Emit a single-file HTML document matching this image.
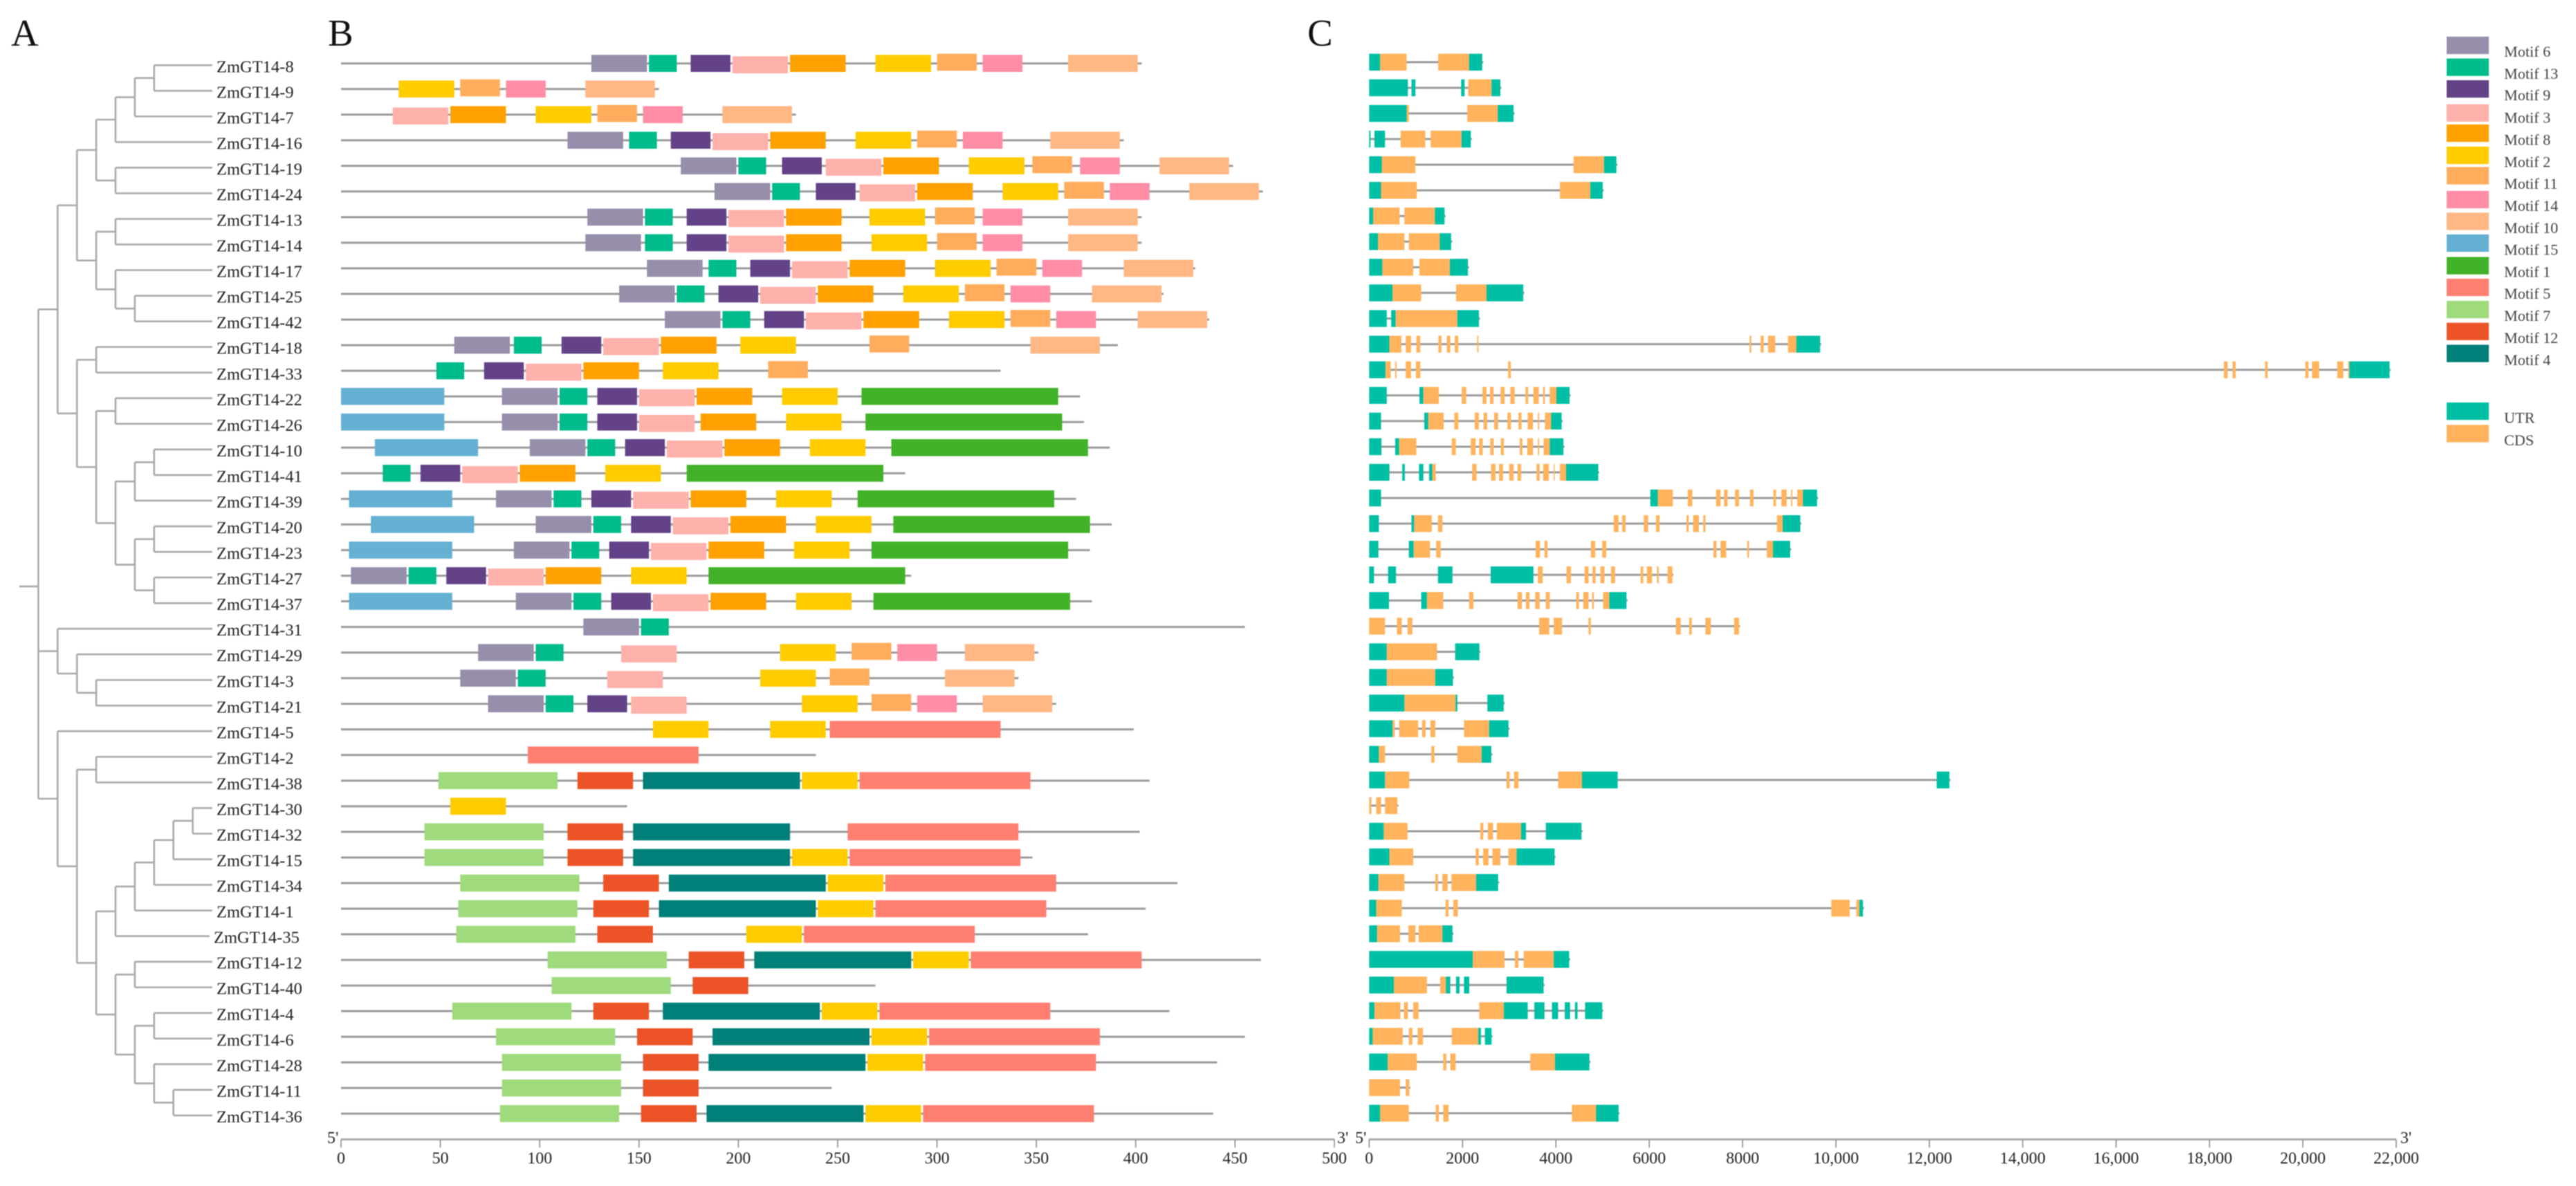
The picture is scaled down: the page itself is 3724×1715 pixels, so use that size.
<!DOCTYPE html>
<html lang="en">
<head>
<meta charset="utf-8">
<title>ZmGT14 phylogeny, motifs and gene structure</title>
<style>
html,body{margin:0;padding:0;background:#fff;width:3724px;height:1715px;overflow:hidden}
svg{display:block;filter:blur(0.8px)}
text{font-family:"Liberation Serif",serif}
</style>
</head>
<body>
<svg id="chart" xmlns="http://www.w3.org/2000/svg" width="3724" height="1715" viewBox="0 0 3724 1715">
  <rect width="3724" height="1715" fill="#fff"/>
  <text x="16" y="66" font-size="55" fill="#111">A</text>
  <text x="474" y="66" font-size="55" fill="#111">B</text>
  <text x="1890" y="66" font-size="55" fill="#111">C</text>
  <text x="473" y="1653" font-size="24" fill="#222">5'</text>
  <text x="1933" y="1653" font-size="24" fill="#222">3'</text>
  <text x="1959" y="1653" font-size="24" fill="#222">5'</text>
  <text x="3470" y="1653" font-size="24" fill="#222">3'</text>
</svg>
<script>
// ---------- data ----------
const genes = ["ZmGT14-8","ZmGT14-9","ZmGT14-7","ZmGT14-16","ZmGT14-19","ZmGT14-24","ZmGT14-13","ZmGT14-14","ZmGT14-17","ZmGT14-25","ZmGT14-42","ZmGT14-18","ZmGT14-33","ZmGT14-22","ZmGT14-26","ZmGT14-10","ZmGT14-41","ZmGT14-39","ZmGT14-20","ZmGT14-23","ZmGT14-27","ZmGT14-37","ZmGT14-31","ZmGT14-29","ZmGT14-3","ZmGT14-21","ZmGT14-5","ZmGT14-2","ZmGT14-38","ZmGT14-30","ZmGT14-32","ZmGT14-15","ZmGT14-34","ZmGT14-1","ZmGT14-35","ZmGT14-12","ZmGT14-40","ZmGT14-4","ZmGT14-6","ZmGT14-28","ZmGT14-11","ZmGT14-36"];

const tree = [
 [
  [
   [ [ [ [["ZmGT14-8","ZmGT14-9"],"ZmGT14-7"], "ZmGT14-16"], ["ZmGT14-19","ZmGT14-24"] ],
     [ ["ZmGT14-13","ZmGT14-14"], ["ZmGT14-17",["ZmGT14-25","ZmGT14-42"]] ] ],
   [ ["ZmGT14-18","ZmGT14-33"],
     [ ["ZmGT14-22","ZmGT14-26"],
       [ [["ZmGT14-10","ZmGT14-41"],"ZmGT14-39"],
         [["ZmGT14-20","ZmGT14-23"],["ZmGT14-27","ZmGT14-37"]] ] ] ]
  ]
 ].flat(),
 ["ZmGT14-31",["ZmGT14-29",["ZmGT14-3","ZmGT14-21"]]],
 ["ZmGT14-5",
  [ ["ZmGT14-2","ZmGT14-38"],
    [ [ [ [ [["ZmGT14-30","ZmGT14-32"],"ZmGT14-15"],"ZmGT14-34"],"ZmGT14-1"],"ZmGT14-35"],
      [ ["ZmGT14-12","ZmGT14-40"],
        [ ["ZmGT14-4","ZmGT14-6"],["ZmGT14-28",["ZmGT14-11","ZmGT14-36"]] ] ] ] ] ]
];

const proteinLengths = [403,160,229,394,449,464,403,403,430,414,437,391,332,372,374,387,284,370,388,377,287,378,455,351,341,360,399,239,407,144,402,348,421,405,376,463,269,417,455,441,247,439];

const motifOrder = [6,13,9,3,8,2,11,14,10,15,1,5,7,12,4];
const motifLengths = {6:28,13:14,9:20,3:28,8:28,2:28,11:20,14:20,10:35,15:52,1:99,5:86,7:60,12:28,4:79};
const motifColors = {6:"#968eab",13:"#00bc8c",9:"#634288",3:"#ffb1ab",8:"#ffa100",2:"#ffcc00",11:"#ffad5c",14:"#ff8da6",10:"#ffb784",15:"#64b1d3",1:"#42b229",5:"#ff7f71",7:"#9fda7c",12:"#ec5427",4:"#008079"};

// one list per gene: [motif id, start residue]
const motifHits = [
 [[6,126],[13,155],[9,176],[3,197],[8,226],[2,269],[11,300],[14,323],[10,366]],
 [[2,29],[11,60],[14,83],[10,123]],
 [[3,26],[8,55],[2,98],[11,129],[14,152],[10,192]],
 [[6,114],[13,145],[9,166],[3,187],[8,216],[2,259],[11,290],[14,313],[10,357]],
 [[6,171],[13,200],[9,222],[3,244],[8,273],[2,316],[11,348],[14,372],[10,412]],
 [[6,188],[13,217],[9,239],[3,261],[8,290],[2,333],[11,364],[14,387],[10,427]],
 [[6,124],[13,153],[9,174],[3,195],[8,224],[2,266],[11,299],[14,323],[10,366]],
 [[6,123],[13,153],[9,174],[3,195],[8,224],[2,267],[11,300],[14,323],[10,366]],
 [[6,154],[13,185],[9,206],[3,227],[8,256],[2,299],[11,330],[14,353],[10,394]],
 [[6,140],[13,169],[9,190],[3,211],[8,240],[2,283],[11,314],[14,337],[10,378]],
 [[6,163],[13,192],[9,213],[3,234],[8,263],[2,306],[11,337],[14,360],[10,401]],
 [[6,57],[13,87],[9,111],[3,132],[8,161],[2,201],[11,266],[10,347]],
 [[13,48],[9,72],[3,93],[8,122],[2,162],[11,215]],
 [[15,0],[6,81],[13,110],[9,129],[3,150],[8,179],[2,222],[1,262]],
 [[15,0],[6,81],[13,110],[9,129],[3,150],[8,181],[2,224],[1,264]],
 [[15,17],[6,95],[13,124],[9,143],[3,164],[8,193],[2,236],[1,277]],
 [[13,21],[9,40],[3,61],[8,90],[2,133],[1,174]],
 [[15,4],[6,78],[13,107],[9,126],[3,147],[8,176],[2,219],[1,260]],
 [[15,15],[6,98],[13,127],[9,146],[3,167],[8,196],[2,239],[1,278]],
 [[15,4],[6,87],[13,116],[9,135],[3,156],[8,185],[2,228],[1,267]],
 [[6,5],[13,34],[9,53],[3,74],[8,103],[2,146],[1,185]],
 [[15,4],[6,88],[13,117],[9,136],[3,157],[8,186],[2,229],[1,268]],
 [[6,122],[13,151]],
 [[6,69],[13,98],[3,141],[2,221],[11,257],[14,280],[10,314]],
 [[6,60],[13,89],[3,134],[2,211],[11,246],[10,304]],
 [[6,74],[13,103],[9,124],[3,146],[2,232],[11,267],[14,290],[10,323]],
 [[2,157],[2,216],[5,246]],
 [[5,94]],
 [[7,49],[12,119],[4,152],[2,232],[5,261]],
 [[2,55]],
 [[7,42],[12,114],[4,147],[5,255]],
 [[7,42],[12,114],[4,147],[2,227],[5,256]],
 [[7,60],[12,132],[4,165],[2,245],[5,274]],
 [[7,59],[12,127],[4,160],[2,240],[5,269]],
 [[7,58],[12,129],[2,204],[5,233]],
 [[7,104],[12,175],[4,208],[2,288],[5,317]],
 [[7,106],[12,177]],
 [[7,56],[12,127],[4,162],[2,242],[5,271]],
 [[7,78],[12,149],[4,187],[2,267],[5,296]],
 [[7,81],[12,152],[4,185],[2,265],[5,294]],
 [[7,81],[12,152]],
 [[7,80],[12,151],[4,184],[2,264],[5,293]]
];

// one list per gene: [start bp, end bp, kind] with kind U = UTR, C = CDS
const U = "UTR", C = "CDS";
const geneSegments = [
 [[0,236,U],[236,803,C],[1478,2140,C],[2140,2423,U]],
 [[0,830,U],[907,992,U],[1970,2045,U],[2121,2622,C],[2622,2811,U]],
 [[0,803,U],[803,850,C],[2102,2754,C],[2754,3094,U]],
 [[0,30,U],[113,340,U],[675,1204,C],[1318,1979,C],[1979,2178,U]],
 [[0,274,U],[274,992,C],[4379,5031,C],[5031,5296,U]],
 [[0,255,U],[255,1020,C],[4086,4738,C],[4738,5003,U]],
 [[0,85,U],[85,652,C],[756,1408,C],[1408,1616,U]],
 [[0,189,U],[189,756,C],[850,1512,C],[1512,1757,U]],
 [[0,283,U],[283,945,C],[1077,1729,C],[1729,2117,U]],
 [[0,501,U],[501,1115,C],[1861,2513,C],[2513,3302,U]],
 [[0,378,U],[472,567,U],[567,1890,C],[1890,2353,U]],
 [[0,435,U],[435,690,C],[784,898,C],[1011,1096,C],[1483,1550,C],[1663,1739,C],[1833,1909,C],[2315,2343,C],[8149,8187,C],[8386,8452,C],[8546,8698,C],[8972,9151,C],[9151,9661,U]],
 [[0,350,U],[350,463,C],[557,586,C],[784,898,C],[1002,1096,C],[2976,3033,C],[18308,18391,C],[18493,18561,C],[19191,19246,C],[20053,20121,C],[20196,20347,C],[20737,20867,C],[20969,20997,C],[20997,21858,U]],
 [[0,378,U],[1077,1162,U],[1162,1493,C],[1984,2079,C],[2428,2513,C],[2589,2665,C],[2816,2901,C],[3024,3118,C],[3349,3406,C],[3519,3633,C],[3727,3765,C],[3869,4011,C],[4011,4294,U]],
 [[0,255,U],[1181,1266,U],[1266,1597,C],[1824,1909,C],[2263,2348,C],[2452,2527,C],[2678,2763,C],[2962,3037,C],[3198,3264,C],[3397,3510,C],[3614,3642,C],[3765,3897,C],[3897,4124,U]],
 [[0,265,U],[557,643,U],[643,1011,C],[1771,1856,C],[2178,2281,C],[2357,2433,C],[2593,2669,C],[2820,2886,C],[3226,3283,C],[3387,3510,C],[3614,3642,C],[3737,3869,C],[3869,4162,U]],
 [[0,435,U],[709,765,U],[1068,1162,U],[1285,1351,U],[1351,1427,C],[2206,2300,C],[2612,2707,C],[2782,2867,C],[3000,3094,C],[3179,3255,C],[3586,3652,C],[3727,3850,C],[3954,3973,C],[4086,4219,C],[4219,4908,U]],
 [[0,255,U],[6023,6184,U],[6184,6505,C],[6826,6921,C],[7431,7526,C],[7601,7677,C],[7838,7923,C],[8159,8234,C],[8660,8716,C],[8830,8943,C],[9037,9066,C],[9170,9293,C],[9293,9595,U]],
 [[0,208,U],[907,964,U],[964,1342,C],[1474,1569,C],[5239,5343,C],[5419,5494,C],[5882,5976,C],[6146,6222,C],[6798,6845,C],[6940,7063,C],[7157,7205,C],[8735,8858,C],[8858,9236,U]],
 [[0,198,U],[850,954,U],[954,1304,C],[1436,1531,C],[3567,3661,C],[3756,3822,C],[4748,4842,C],[4993,5078,C],[7375,7441,C],[7526,7649,C],[8098,8136,C],[8518,8650,C],[8650,9019,U]],
 [[0,104,U],[406,576,U],[1474,1786,U],[2603,3519,U],[3614,3718,C],[4228,4322,C],[4615,4700,C],[4785,4851,C],[4955,5040,C],[5182,5267,C],[5815,5872,C],[5948,6061,C],[6165,6203,C],[6392,6496,C]],
 [[0,425,U],[1115,1238,U],[1238,1587,C],[2140,2234,C],[3179,3274,C],[3359,3434,C],[3557,3652,C],[3784,3869,C],[4436,4493,C],[4587,4700,C],[4776,4814,C],[5012,5145,C],[5145,5513,U]],
 [[0,340,C],[595,699,C],[822,926,C],[3642,3860,C],[3954,4133,C],[4700,4748,C],[6571,6675,C],[6855,6911,C],[7204,7318,C],[7818,7923,C]],
 [[0,378,U],[378,1455,C],[1843,2362,U]],
 [[0,378,U],[378,1417,C],[1417,1795,U]],
 [[0,756,U],[756,1852,C],[1852,1890,U],[2532,2882,U]],
 [[0,501,U],[501,548,C],[643,1049,C],[1134,1209,C],[1313,1417,C],[2032,2570,C],[2570,2986,U]],
 [[0,208,U],[208,340,C],[1332,1398,C],[1890,2410,C],[2410,2617,U]],
 [[0,340,U],[340,860,C],[2943,3009,C],[3104,3198,C],[4048,4559,C],[4559,5324,U],[12156,12430,U]],
 [[0,47,C],[151,255,C],[340,605,C]],
 [[0,312,U],[312,822,C],[2381,2447,C],[2542,2655,C],[2735,3255,C],[3255,3359,U],[3784,4549,U]],
 [[0,435,U],[435,945,C],[2281,2348,C],[2442,2556,C],[2641,2811,C],[2981,3160,C],[3160,3973,U]],
 [[0,198,U],[198,756,C],[1417,1474,C],[1569,1682,C],[1762,2291,C],[2291,2763,U]],
 [[0,151,U],[151,699,C],[1635,1701,C],[1805,1899,C],[9898,10294,C],[10436,10502,C],[10502,10578,U]],
 [[0,170,U],[170,661,C],[841,992,C],[1058,1569,C],[1569,1786,U]],
 [[0,2221,U],[2221,2901,C],[3122,3198,C],[3311,3954,C],[3954,4285,U]],
 [[0,529,U],[529,1238,C],[1521,1644,C],[1644,1739,U],[1861,1937,U],[2032,2145,U],[2943,3737,U]],
 [[0,113,U],[113,671,C],[746,831,C],[945,1058,C],[2357,2886,C],[2886,3397,U],[3538,3756,U],[3916,4048,U],[4190,4304,U],[4408,4464,U],[4625,4993,U]],
 [[0,76,U],[76,718,C],[850,926,C],[1039,1153,C],[1771,2338,C],[2338,2395,U],[2480,2622,U]],
 [[0,397,U],[397,1020,C],[1587,1654,C],[1739,1852,C],[3453,3982,C],[3982,4719,U]],
 [[0,661,C],[784,860,C]],
 [[0,236,U],[236,850,C],[1427,1493,C],[1587,1701,C],[4342,4861,C],[4861,5343,U]]
];

const motifTicks = [0,50,100,150,200,250,300,350,400,450,500];
const geneTicks = [0,2000,4000,6000,8000,10000,12000,14000,16000,18000,20000,22000];
const geneTickLabels = ["0","2000","4000","6000","8000","10,000","12,000","14,000","16,000","18,000","20,000","22,000"];
const legendStructure = ["UTR","CDS"];

// ---------- scales ----------
const NS = "http://www.w3.org/2000/svg";
const svg = document.getElementById("chart");
const xMotif = a => 493 + a * 2.872;
const xGene = b => 1979.3 + b * 0.06749;
const yMotifRow = i => 91.7 + 37.04 * i;
const yGeneRow = i => 89.9 + 37.07 * i;
const yTip = i => 94.3 + 37.04 * i;
const xDepth = d => 55.4 + 27.9 * d;
const structureColors = {UTR:"#00bfa5", CDS:"#ffb35c"};
const motifDy = {3:2, 11:-1.7};

function make(tag, attrs, parent) {
  const el = document.createElementNS(NS, tag);
  for (const k in attrs) el.setAttribute(k, attrs[k]);
  (parent || svg).appendChild(el);
  return el;
}
function group(name) {
  const g = make("g", {});
  
  
  return g;
}

// ---------- panel A: tree ----------
const treeG = group('phylogenetic-tree');
function drawLine(x1, y1, x2, y2) {
  const l = make("line", {x1, y1, x2, y2, stroke:"#a9a9a9", "stroke-width":2.6}, treeG);
  
  
}
function layout(node, depth) {
  if (typeof node === "string") {
    const i = genes.indexOf(node);
    return {y: yTip(i), tip: true, idx: i, name: node};
  }
  const kids = node.map(n => layout(n, depth + 1));
  const y = kids.reduce((s, k) => s + k.y, 0) / kids.length;
  const x = xDepth(depth);
  drawLine(x, Math.min(...kids.map(k => k.y)), x, Math.max(...kids.map(k => k.y)));
  kids.forEach(k => {
    const endX = k.tip ? (k.name === "ZmGT14-35" ? 303 : 307) : xDepth(depth + 1);
    drawLine(x, k.y, endX, k.y);
  });
  return {y};
}
const rootNode = layout(tree, 0);
drawLine(27.7, rootNode.y, xDepth(0), rootNode.y);

genes.forEach((name, i) => {
  const t = make("text", {x: name === "ZmGT14-35" ? 309 : 313, y: 104.3 + 37.04 * i, "font-size": 24.5, fill:"#222"});
  t.textContent = name;
  
  
});

// ---------- panel B: motifs ----------
const motifG = group('motif-panel');
genes.forEach((name, i) => {
  const y = yMotifRow(i);
  const line = make("line", {x1:xMotif(0), y1:y, x2:xMotif(proteinLengths[i]), y2:y, stroke:"#9a9a9a", "stroke-width":3}, motifG);
  
  
  motifHits[i].forEach(hit => {
    const id = hit[0], start = hit[1];
    const r = make("rect", {
      x: xMotif(start), width: xMotif(start + motifLengths[id]) - xMotif(start),
      y: y - 12.3 + (motifDy[id] || 0), height: 24.6, fill: motifColors[id]
    }, motifG);
    
    
  });
});

// ---------- panel C: gene structures ----------
const geneG = group('gene-structure-panel');
genes.forEach((name, i) => {
  const y = yGeneRow(i);
  const segs = geneSegments[i];
  const last = segs[segs.length - 1][1];
  const line = make("line", {x1:xGene(0), y1:y, x2:xGene(last) + 1.5, y2:y, stroke:"#9a9a9a", "stroke-width":3}, geneG);
  
  
  segs.forEach(s => {
    const r = make("rect", {
      x: xGene(s[0]), width: Math.max(1.5, xGene(s[1]) - xGene(s[0])),
      y: y - 12.2, height: 24.4, fill: structureColors[s[2]]
    }, geneG);
    
    
  });
});

// ---------- axes ----------
function axis(name, scale, ticks, labels) {
  const g = group(name);
  const base = make("line", {x1:scale(ticks[0]), y1:1647.6, x2:scale(ticks[ticks.length-1]), y2:1647.6, stroke:"#aaaaaa", "stroke-width":3}, g);
  
  
  ticks.forEach((v, i) => {
    const tick = make("line", {x1:scale(v), y1:1647.6, x2:scale(v), y2:1659.5, stroke:"#8c8c8c", "stroke-width":1.6}, g);
    
    
    const t = make("text", {x:scale(v), y:1682.5, "font-size":24, "text-anchor":"middle", fill:"#222"}, g);
    t.textContent = labels[i];
    
    
  });
}
axis('motif-axis', xMotif, motifTicks, motifTicks.map(String));
axis('gene-axis', xGene, geneTicks, geneTickLabels);

// ---------- legend ----------
const legendG = group('legend');
const legendSwatchTops = [53,84.6,116,150.7,180,212,241.5,276,307.5,339,371.6,403,435,466.7,498.5];
const legendBaselines = [82,114,145,177.6,209.5,241.3,273,305,337,368.7,400.5,432,464,496,528];
function legendEntry(label, color, top, base) {
  const r = make("rect", {x:3537, y:top, width:61, height:25.2, fill:color}, legendG);
  
  
  const t = make("text", {x:3620, y:base, "font-size":22.2, fill:"#444"}, legendG);
  t.textContent = label;
  
  
}
motifOrder.forEach((id, i) => legendEntry("Motif " + id, motifColors[id], legendSwatchTops[i], legendBaselines[i]));
legendEntry(legendStructure[0], structureColors.UTR, 582, 611.4);
legendEntry(legendStructure[1], structureColors.CDS, 614.4, 643.8);
</script>
</body>
</html>
